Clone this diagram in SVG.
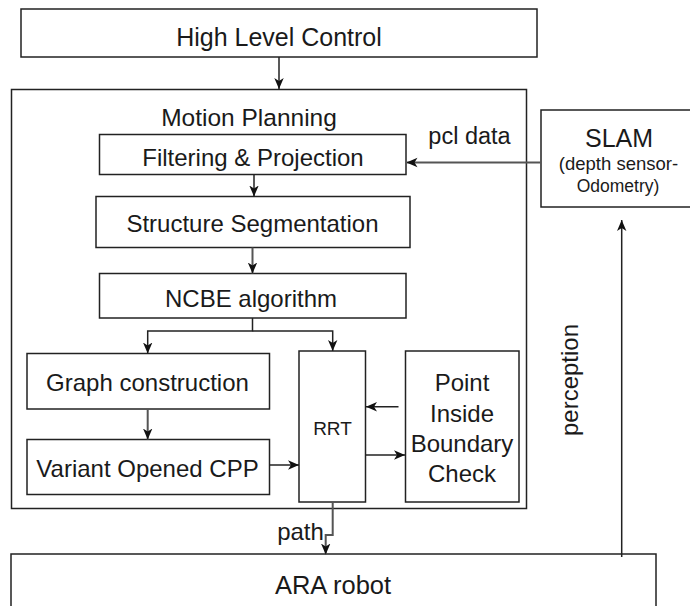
<svg xmlns="http://www.w3.org/2000/svg" width="690" height="606" viewBox="0 0 690 606">
<defs>
<style>
.box{fill:#fff;stroke:#222;stroke-width:1.5}
.frame{fill:none;stroke:#222;stroke-width:1.5}
.t{font-family:"Liberation Sans",Arial,Helvetica,sans-serif;fill:#1a1a1a;text-anchor:middle}
.c{fill:none;stroke:#222;stroke-width:1.5}
.cg{fill:none;stroke:#555;stroke-width:2}
</style>
<marker id="arr" viewBox="0 0 11 11" refX="11" refY="5.5" markerWidth="11" markerHeight="11" markerUnits="userSpaceOnUse" orient="auto">
<path d="M0,0.8 L11,5.5 L0,10.2 L3,5.5 Z" fill="#111"/>
</marker>
</defs>
<rect width="690" height="606" fill="#fff"/>

<g id="motion-planning">
<rect class="frame" x="11.5" y="89.5" width="515" height="419"/>
<text class="t" x="249" y="126" font-size="24.5">Motion Planning</text>
</g>

<g id="high-level-control">
<rect class="box" x="21" y="9" width="516" height="48"/>
<text class="t" x="279" y="45.5" font-size="25">High Level Control</text>
</g>

<g id="filtering">
<rect class="box" x="99.5" y="134.5" width="306.5" height="40"/>
<text class="t" x="253" y="165.5" font-size="24">Filtering &amp; Projection</text>
</g>

<g id="segmentation">
<rect class="box" x="96" y="196.5" width="314" height="51"/>
<text class="t" x="252.5" y="231.5" font-size="24">Structure Segmentation</text>
</g>

<g id="ncbe">
<rect class="box" x="99.5" y="273.5" width="306.5" height="44.5"/>
<text class="t" x="251" y="306.5" font-size="24">NCBE algorithm</text>
</g>

<g id="graph">
<rect class="box" x="27" y="353.5" width="242.5" height="55.5"/>
<text class="t" x="147.5" y="390.5" font-size="24">Graph construction</text>
</g>

<g id="variant">
<rect class="box" x="27" y="439.5" width="242.5" height="55"/>
<text class="t" x="147.5" y="476.5" font-size="24">Variant Opened CPP</text>
</g>

<g id="rrt">
<rect class="box" x="299" y="351" width="66.5" height="151"/>
<text class="t" x="332.5" y="435" font-size="19">RRT</text>
</g>

<g id="point-check">
<rect class="box" x="405.5" y="351" width="113.5" height="151"/>
<text class="t" x="462" y="390.5" font-size="24">Point</text>
<text class="t" x="462" y="421.5" font-size="24">Inside</text>
<text class="t" x="462" y="452" font-size="24">Boundary</text>
<text class="t" x="462" y="481.5" font-size="24">Check</text>
</g>

<g id="slam">
<rect class="box" x="541" y="110" width="160" height="97"/>
<text class="t" x="619" y="146.5" font-size="25">SLAM</text>
<text class="t" x="618.5" y="170" font-size="18.5">(depth sensor-</text>
<text class="t" x="618" y="191.5" font-size="17.5">Odometry)</text>
</g>

<g id="ara-robot">
<rect class="box" x="11" y="554" width="645" height="70"/>
<text class="t" x="333" y="593.5" font-size="25.5">ARA robot</text>
</g>

<g id="connectors">
<line class="c" x1="279" y1="57" x2="279" y2="89" marker-end="url(#arr)"/>
<line class="c" x1="254" y1="174.5" x2="254" y2="196.5" marker-end="url(#arr)"/>
<line class="cg" x1="252.5" y1="247.5" x2="252.5" y2="273.5" marker-end="url(#arr)"/>
<polyline class="c" points="252.5,318 252.5,331 147.7,331 147.7,353.5" marker-end="url(#arr)"/>
<polyline class="c" points="252.5,331 332.7,331 332.7,351" marker-end="url(#arr)"/>
<line class="cg" x1="147.7" y1="409" x2="147.7" y2="439.5" marker-end="url(#arr)"/>
<line class="c" x1="269.5" y1="465" x2="299" y2="465" marker-end="url(#arr)"/>
<line class="c" x1="398.5" y1="406.7" x2="366" y2="406.7" marker-end="url(#arr)"/>
<line class="c" x1="365.5" y1="455" x2="405" y2="455" marker-end="url(#arr)"/>
<line class="cg" x1="541" y1="162.5" x2="406.5" y2="162.5" marker-end="url(#arr)"/>
<polyline class="cg" points="332.7,502 332.7,535 325.7,535 325.7,554.5" marker-end="url(#arr)"/>
<line class="c" x1="621.7" y1="557" x2="621.7" y2="220" marker-end="url(#arr)"/>
<text class="t" x="469.5" y="144" font-size="23.5">pcl data</text>
<text class="t" x="300.5" y="540" font-size="24">path</text>
<text class="t" transform="translate(578,380) rotate(-90)" font-size="24">perception</text>
</g>
</svg>
